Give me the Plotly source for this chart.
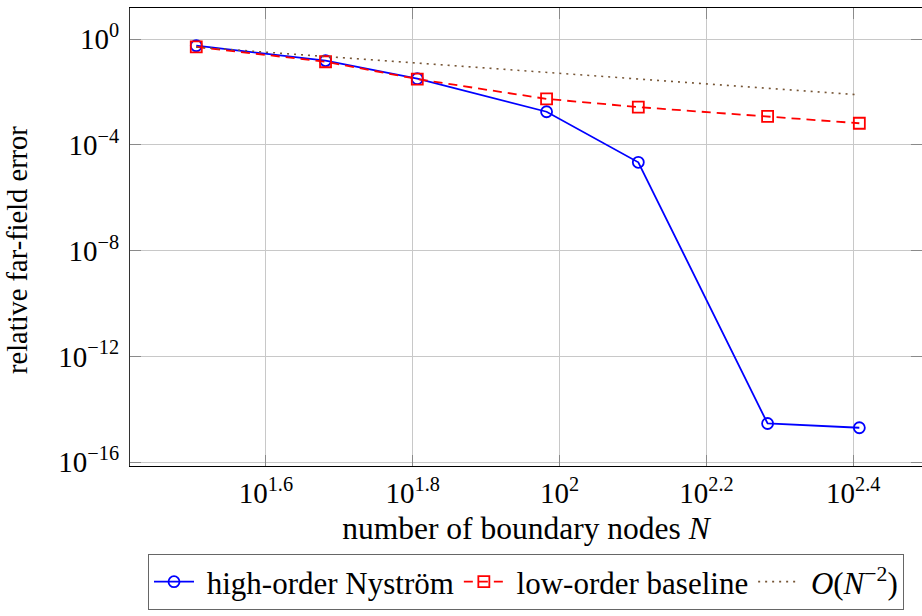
import plotly.graph_objects as go

# Data
N = [32, 48, 64, 96, 128, 192, 256]
high_order = [0.57, 0.155, 0.032, 1.8e-3, 2.2e-5, 2.9e-15, 2.0e-15]
low_order = [0.51, 0.14, 0.031, 5.5e-3, 2.7e-3, 1.2e-3, 6.6e-4]
ref_rate = [0.5, 0.222, 0.125, 0.0556, 0.03125, 0.0139, 0.0078]

x_tick_exps = ["1.6", "1.8", "2", "2.2", "2.4"]
y_tick_exps = [0, -4, -8, -12, -16]

FONT = "Liberation Serif"
NBSP = "\u00a0"

x_tickvals = [10 ** float(e) for e in x_tick_exps]
x_ticktext = [f"10<sup>{e}</sup>" for e in x_tick_exps]
y_tickvals = [10.0 ** e for e in y_tick_exps]
y_ticktext = [f"10<sup>{str(e).replace('-', '\u2212')}</sup>" for e in y_tick_exps]

fig = go.Figure()
fig.add_trace(go.Scatter(
    x=N, y=high_order, name=NBSP + "high-order Nyström", mode="lines+markers",
    line=dict(color="#0000ff", width=1.8),
    marker=dict(symbol="circle-open", size=11, color="#0000ff", line=dict(width=1.8, color="#0000ff")),
))
fig.add_trace(go.Scatter(
    x=N, y=low_order, name=NBSP + "low-order baseline", mode="lines+markers",
    line=dict(color="#ff0000", width=1.8, dash="9px,6px"),
    marker=dict(symbol="square-open", size=11, color="#ff0000", line=dict(width=1.8, color="#ff0000")),
))
fig.add_trace(go.Scatter(
    x=N, y=ref_rate, name=NBSP + "<i>O</i>(<i>N</i><sup>\u22122</sup>)", mode="lines",
    line=dict(color="#765535", width=1.6, dash="2px,5px"),
))
# invisible trace to host the mirrored right-hand tick axis
fig.add_trace(go.Scatter(
    x=N, y=ref_rate, yaxis="y2", mode="lines", showlegend=False,
    hoverinfo="skip", line=dict(color="rgba(0,0,0,0)", width=0),
))

axis_common = dict(
    type="log", ticks="inside", ticklen=11, tickwidth=1, tickcolor="#8a8a8a",
    tickfont=dict(family=FONT, size=29, color="black"),
    zeroline=False, automargin=False,
)

fig.update_layout(
    width=922, height=616,
    margin=dict(l=130, r=0, t=8, b=150, autoexpand=False),
    paper_bgcolor="white", plot_bgcolor="white",
    font=dict(family=FONT, color="black"),
    xaxis=dict(
        **axis_common, range=[1.4149, 2.4936],
        tickvals=x_tickvals, ticktext=x_ticktext,
        showgrid=True, gridcolor="#c8c8c8", gridwidth=1,
        showline=True, linecolor="black", linewidth=1.2, mirror="ticks",
        ticklabelstandoff=1,
        title=dict(text="number of boundary nodes <i>N</i>", font=dict(family=FONT, size=31.5), standoff=9),
    ),
    yaxis=dict(
        **axis_common, range=[-16.146, 1.18],
        tickvals=y_tickvals, ticktext=y_ticktext,
        showgrid=True, gridcolor="#c8c8c8", gridwidth=1,
        showline=True, linecolor="#333333", linewidth=1.2, mirror=False,
        ticklabelstandoff=4,
    ),
    yaxis2=dict(
        **axis_common, range=[-16.146, 1.18], overlaying="y", side="right",
        tickvals=y_tickvals, showticklabels=False, showgrid=False, showline=False,
    ),
    legend=dict(
        orientation="h", x=0.5, xanchor="center", y=-0.2533, yanchor="middle",
        bordercolor="#666666", borderwidth=1, bgcolor="white",
        font=dict(family=FONT, size=31), itemwidth=40, tracegroupgap=0,
    ),
    showlegend=True,
    annotations=[dict(
        text="relative far-field error", xref="paper", yref="paper",
        x=-0.1427, y=0.4716, xanchor="center", yanchor="middle",
        textangle=-90, showarrow=False, font=dict(family=FONT, size=28.5, color="black"),
    )],
)

fig.write_html(
    "out.html",
    config={"displayModeBar": False},
    post_script="document.body.style.margin='0';document.body.style.overflow='hidden';",
)
